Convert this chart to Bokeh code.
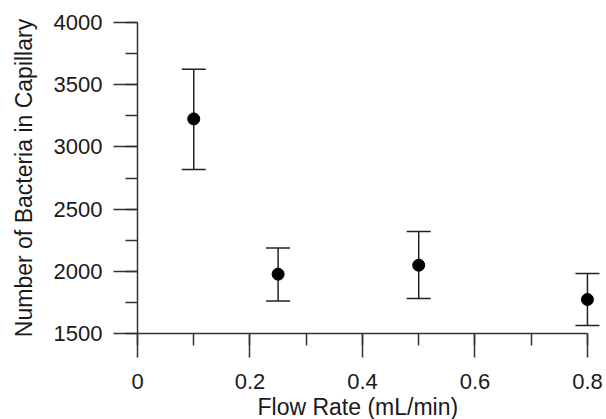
from bokeh.plotting import figure
from bokeh.models import ColumnDataSource, Whisker, TeeHead, SingleIntervalTicker, Range1d, Title
from bokeh.embed import file_html
from bokeh.resources import INLINE

flow = [0.1, 0.25, 0.5, 0.8]
count = [3225, 1977, 2049, 1773]
upper = [3625, 2188, 2320, 1982]
lower = [2818, 1762, 1781, 1564]

x_ticks = [0, 0.2, 0.4, 0.6, 0.8]
x_tick_labels = ["0", "0.2", "0.4", "0.6", "0.8"]
y_ticks = [1500, 2000, 2500, 3000, 3500, 4000]
y_tick_labels = ["1500", "2000", "2500", "3000", "3500", "4000"]
x_title = "Flow Rate (mL/min)"
y_title = "Number of Bacteria in Capillary"

src = ColumnDataSource(dict(x=flow, y=count, up=upper, lo=lower))

FONT = "Liberation Sans"
TXT = "#1a1a1a"
AX = "#333333"

p = figure(frame_width=464, frame_height=311, output_backend="svg", toolbar_location=None,
           x_range=Range1d(0, 0.825), y_range=Range1d(1500, 4000),
           min_border_left=137, min_border_right=5, min_border_top=22, min_border_bottom=86)
p.outline_line_color = None
p.xgrid.visible = False
p.ygrid.visible = False
p.background_fill_color = "white"
p.border_fill_color = "white"

w = Whisker(source=src, base="x", upper="up", lower="lo", dimension="height",
            line_color="#222222", line_width=1.5,
            upper_head=TeeHead(size=24, line_color="#222222", line_width=1.5),
            lower_head=TeeHead(size=24, line_color="#222222", line_width=1.5))
p.add_layout(w)
p.scatter("x", "y", source=src, size=12, marker="circle", fill_color="black", line_color="black")

for ax in (p.xaxis[0], p.yaxis[0]):
    ax.axis_line_color = AX
    ax.axis_line_width = 1.5
    ax.major_tick_line_color = AX
    ax.major_tick_line_width = 1.5
    ax.minor_tick_line_color = AX
    ax.minor_tick_line_width = 1.5
    ax.major_tick_in = 0
    ax.major_tick_out = 24
    ax.minor_tick_in = 0
    ax.minor_tick_out = 12
    ax.major_label_text_font = FONT
    ax.major_label_text_font_size = "22px"
    ax.major_label_text_color = TXT
    ax.axis_label_text_font = FONT
    ax.axis_label_text_font_size = "23px"
    ax.axis_label_text_font_style = "normal"
    ax.axis_label_text_color = TXT

p.xaxis.ticker = SingleIntervalTicker(interval=0.2, num_minor_ticks=2)
p.xaxis.bounds = (0, 0.8)
p.xaxis.major_label_overrides = {t: l for t, l in zip(x_ticks, x_tick_labels)}
p.xaxis.major_label_standoff = 16

p.add_layout(Title(text=x_title, align="left", offset=120, standoff=0,
                   text_font=FONT, text_font_size="23px", text_font_style="normal",
                   text_color=TXT), "below")

p.yaxis.ticker = SingleIntervalTicker(interval=500, num_minor_ticks=2)
p.yaxis.major_label_overrides = {t: l for t, l in zip(y_ticks, y_tick_labels)}
p.yaxis.axis_label = y_title
p.yaxis.major_label_standoff = 11
p.yaxis.axis_label_standoff = 14

open("out.html", "w").write(file_html(p, INLINE))
